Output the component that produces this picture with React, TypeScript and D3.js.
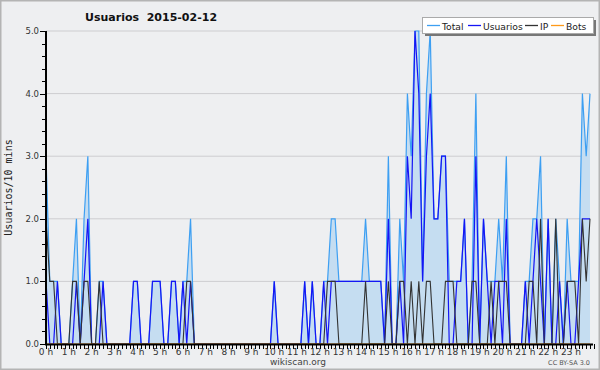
import { useEffect, useRef } from "react";
import * as d3 from "d3";

// one value per 10-minute slot, 00:00 .. 23:50
const total = [
  3, 1, 1, 1, 0, 0, 0, 1, 2, 0, 2, 3, 0, 0, 1, 1, 0, 0, 0, 0, 0, 0, 0, 1,
  1, 0, 0, 0, 1, 1, 1, 0, 0, 1, 1, 0, 1, 1, 2, 0, 0, 0, 0, 0, 0, 0, 0, 0,
  0, 0, 0, 0, 0, 0, 0, 0, 0, 0, 0, 0, 1, 0, 0, 0, 0, 0, 0, 0, 1, 0, 1, 0,
  0, 1, 1, 2, 2, 1, 1, 1, 1, 1, 1, 1, 2, 1, 1, 1, 1, 0, 3, 0, 0, 2, 1, 4,
  3, 5, 5, 1, 4, 5, 2, 2, 3, 3, 1, 1, 1, 1, 2, 0, 1, 4, 0, 2, 1, 1, 1, 2,
  1, 3, 0, 0, 0, 0, 1, 1, 2, 2, 3, 0, 2, 0, 2, 1, 0, 2, 1, 1, 1, 4, 3, 4,
];
const usuarios = [
  1, 0, 0, 1, 0, 0, 0, 0, 1, 0, 1, 2, 0, 0, 0, 1, 0, 0, 0, 0, 0, 0, 0, 1,
  1, 0, 0, 0, 1, 1, 1, 0, 0, 1, 1, 0, 1, 0, 1, 0, 0, 0, 0, 0, 0, 0, 0, 0,
  0, 0, 0, 0, 0, 0, 0, 0, 0, 0, 0, 0, 1, 0, 0, 0, 0, 0, 0, 0, 1, 0, 1, 0,
  0, 1, 0, 1, 1, 1, 1, 1, 1, 1, 1, 1, 1, 1, 1, 1, 1, 0, 2, 0, 0, 1, 0, 3,
  2, 5, 4, 1, 3, 4, 2, 2, 3, 3, 0, 0, 1, 1, 2, 0, 0, 3, 0, 2, 1, 0, 1, 1,
  0, 2, 0, 0, 0, 0, 1, 0, 1, 2, 1, 0, 2, 0, 0, 1, 0, 1, 0, 0, 1, 2, 2, 2,
];
const ip = [
  2, 1, 1, 0, 0, 0, 0, 1, 1, 0, 1, 1, 0, 0, 1, 0, 0, 0, 0, 0, 0, 0, 0, 0,
  0, 0, 0, 0, 0, 0, 0, 0, 0, 0, 0, 0, 0, 1, 1, 0, 0, 0, 0, 0, 0, 0, 0, 0,
  0, 0, 0, 0, 0, 0, 0, 0, 0, 0, 0, 0, 0, 0, 0, 0, 0, 0, 0, 0, 0, 0, 0, 0,
  0, 0, 1, 1, 1, 0, 0, 0, 0, 0, 0, 0, 1, 0, 0, 0, 0, 0, 1, 0, 0, 1, 1, 0,
  1, 0, 1, 0, 1, 1, 0, 0, 0, 1, 1, 1, 0, 0, 0, 0, 1, 1, 0, 0, 0, 1, 0, 1,
  1, 1, 0, 0, 0, 0, 0, 1, 1, 0, 2, 0, 0, 0, 2, 0, 0, 1, 1, 1, 0, 2, 1, 2,
];
const bots = [
  0, 0, 0, 0, 0, 0, 0, 0, 0, 0, 0, 0, 0, 0, 0, 0, 0, 0, 0, 0, 0, 0, 0, 0,
  0, 0, 0, 0, 0, 0, 0, 0, 0, 0, 0, 0, 0, 0, 0, 0, 0, 0, 0, 0, 0, 0, 0, 0,
  0, 0, 0, 0, 0, 0, 0, 0, 0, 0, 0, 0, 0, 0, 0, 0, 0, 0, 0, 0, 0, 0, 0, 0,
  0, 0, 0, 0, 0, 0, 0, 0, 0, 0, 0, 0, 0, 0, 0, 0, 0, 0, 0, 0, 0, 0, 0, 0,
  0, 0, 0, 0, 0, 0, 0, 0, 0, 0, 0, 0, 0, 0, 0, 0, 0, 0, 0, 0, 0, 0, 0, 0,
  0, 0, 0, 0, 0, 0, 0, 0, 0, 0, 0, 0, 0, 0, 0, 0, 0, 0, 0, 0, 0, 0, 0, 0,
];
const hourLabels = d3.range(24).map((h) => `${h} h`);
const yTicks = [0, 1, 2, 3, 4, 5];
const legendItems = [
  { name: "Total", color: "#3d9ff2" },
  { name: "Usuarios", color: "#1515f5" },
  { name: "IP", color: "#333333" },
  { name: "Bots", color: "#ff9a1a" },
];

const FONT = "DejaVu Sans, sans-serif";

export default function App() {
  const ref = useRef<SVGSVGElement>(null);

  useEffect(() => {
    const svg = d3.select(ref.current);
    svg.selectAll("*").remove();

    const width = 600;
    const height = 370;
    const left = 46;
    const right = 590;
    const top = 31;
    const bottom = 344;

    svg.append("rect").attr("x", 0.5).attr("y", 0.5).attr("width", width - 1).attr("height", height - 1)
      .attr("fill", "#eeeff1").attr("stroke", "#b4b4b4").attr("stroke-width", 2);

    const x = d3.scaleLinear().domain([0, total.length - 1]).range([left, right]);
    const y = d3.scaleLinear().domain([0, 5]).range([bottom, top]);

    // grid
    svg.append("g").selectAll("line").data(yTicks.slice(1)).join("line")
      .attr("x1", left).attr("x2", right).attr("y1", (d) => y(d)).attr("y2", (d) => y(d))
      .attr("stroke", "#cdcdd0").attr("stroke-width", 1);

    const idx = d3.range(total.length);
    const area = d3.area<number>().x((i) => x(i)).y0(y(0)).y1((i) => y(total[i]));
    svg.append("path").datum(idx).attr("d", area).attr("fill", "#c5ddf1");

    const drawLine = (vals: number[], color: string, w: number) => {
      const line = d3.line<number>().x((i) => x(i)).y((i) => y(vals[i]));
      svg.append("path").datum(idx).attr("d", line).attr("fill", "none")
        .attr("stroke", color).attr("stroke-width", w).attr("stroke-linejoin", "miter");
    };
    drawLine(total, legendItems[0].color, 1.2);
    drawLine(usuarios, legendItems[1].color, 1.2);
    drawLine(ip, legendItems[2].color, 1.1);
    drawLine(bots, legendItems[3].color, 1.1);

    // y axis
    const yAxis = svg.append("g");
    yAxis.append("line").attr("x1", left).attr("x2", left).attr("y1", top).attr("y2", bottom + 1)
      .attr("stroke", "#000").attr("stroke-width", 2);
    yAxis.selectAll("line.minor").data(d3.range(0, 5.01, 0.2)).join("line").attr("class", "minor")
      .attr("x1", left - 4).attr("x2", left).attr("y1", (d) => Math.round(y(d)) + 0.5).attr("y2", (d) => Math.round(y(d)) + 0.5)
      .attr("stroke", "#000");
    yAxis.selectAll("line.major").data(yTicks).join("line").attr("class", "major")
      .attr("x1", left - 6).attr("x2", left).attr("y1", (d) => Math.round(y(d)) + 0.5).attr("y2", (d) => Math.round(y(d)) + 0.5)
      .attr("stroke", "#000");
    yAxis.selectAll("text").data(yTicks).join("text")
      .attr("x", left - 7).attr("y", (d) => y(d) + 3).attr("text-anchor", "end")
      .attr("font-family", FONT).attr("font-size", 8.5).attr("fill", "#333")
      .text((d) => d3.format(".1f")(d));

    // x axis
    const xAxis = svg.append("g");
    xAxis.append("line").attr("x1", left - 1).attr("x2", right + 3).attr("y1", bottom + 0.5).attr("y2", bottom + 0.5)
      .attr("stroke", "#000").attr("stroke-width", 2);
    xAxis.selectAll("line.tick").data(d3.range(total.length + 1)).join("line").attr("class", "tick")
      .attr("x1", (i) => Math.round(x(i)) + 0.5).attr("x2", (i) => Math.round(x(i)) + 0.5)
      .attr("y1", bottom).attr("y2", bottom + 5).attr("stroke", "#000");
    xAxis.selectAll("text").data(hourLabels).join("text")
      .attr("x", (_, h) => x(h * 6)).attr("y", bottom + 11).attr("text-anchor", "middle")
      .attr("font-family", FONT).attr("font-size", 9).attr("fill", "#333")
      .text((d) => d);

    // titles
    svg.append("text").attr("x", 85).attr("y", 21).attr("font-family", FONT).attr("font-weight", "bold")
      .attr("font-size", 11).attr("fill", "#111").attr("xml:space", "preserve").text("Usuarios  2015-02-12");
    svg.append("text").attr("transform", `translate(12,${(top + bottom) / 2}) rotate(-90)`)
      .attr("text-anchor", "middle").attr("font-family", "DejaVu Sans Mono, monospace").attr("font-size", 10)
      .attr("fill", "#222").text("Usuarios/10 mins");
    svg.append("text").attr("x", 298).attr("y", 365).attr("text-anchor", "middle").attr("font-family", FONT)
      .attr("font-size", 9).attr("fill", "#444").text("wikiscan.org");
    svg.append("text").attr("x", 590).attr("y", 365).attr("text-anchor", "end").attr("font-family", FONT)
      .attr("font-size", 6.5).attr("fill", "#555").text("CC BY-SA 3.0");

    // legend
    const lg = svg.append("g");
    lg.append("rect").attr("x", 425).attr("y", 20).attr("width", 171).attr("height", 16).attr("fill", "#777");
    lg.append("rect").attr("x", 422.5).attr("y", 17.5).attr("width", 171).attr("height", 16)
      .attr("fill", "#fff").attr("stroke", "#aaa");
    const starts = [427, 468, 525, 551];
    legendItems.forEach((it, i) => {
      lg.append("line").attr("x1", starts[i]).attr("x2", starts[i] + 13).attr("y1", 25.5).attr("y2", 25.5)
        .attr("stroke", it.color).attr("stroke-width", 1.3);
      lg.append("text").attr("x", starts[i] + 15).attr("y", 29.5).attr("font-family", FONT).attr("font-size", 9.2)
        .attr("fill", "#222").text(it.name);
    });
  }, []);

  return <svg ref={ref} width={600} height={370} style={{ position: "absolute", left: 0, top: 0 }} />;
}
